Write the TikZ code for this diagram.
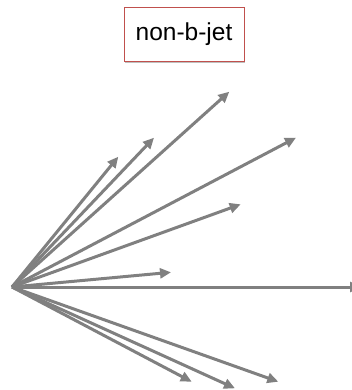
\documentclass[tikz,border=0pt]{standalone}
\usepackage{fontspec}
\setmainfont{Liberation Sans}
\usetikzlibrary{arrows.meta,shadows}
\tikzset{
  vec/.style={draw={rgb,255:red,128;green,128;blue,128}, line width=3pt, -{Triangle[length=11pt,width=10pt]}},
  label box/.style={draw={rgb,255:red,192;green,80;blue,77}, line width=0.8pt, fill=white, minimum width=120pt, minimum height=54pt, inner sep=0pt, font=\fontsize{24.5}{28}\selectfont, drop shadow={opacity=0.5, shadow xshift=1pt, shadow yshift=-2.5pt}}
}
\begin{document}
\begin{tikzpicture}[x=1pt,y=-1pt]
\useasboundingbox (0,0) rectangle (352,390);
\clip (0,0) rectangle (352,390);
\node[label box] (title) at (184,34) {non-b-jet};
\coordinate (o) at (12,287);
\coordinate (t1) at (229.3,91.7);
\coordinate (t2) at (296,137.7);
\coordinate (t3) at (154,137.7);
\coordinate (t4) at (118.3,156.7);
\coordinate (t5) at (240.7,204.3);
\coordinate (t6) at (171,272.3);
\coordinate (t7) at (361,287);
\coordinate (t8) at (191.7,381.7);
\coordinate (t9) at (235,388.3);
\coordinate (t10) at (278.3,381.7);
\foreach \t in {t1,t2,t3,t4,t5,t6,t7,t8,t9,t10}
  \draw[vec] (o) -- (\t);
\end{tikzpicture}
\end{document}
